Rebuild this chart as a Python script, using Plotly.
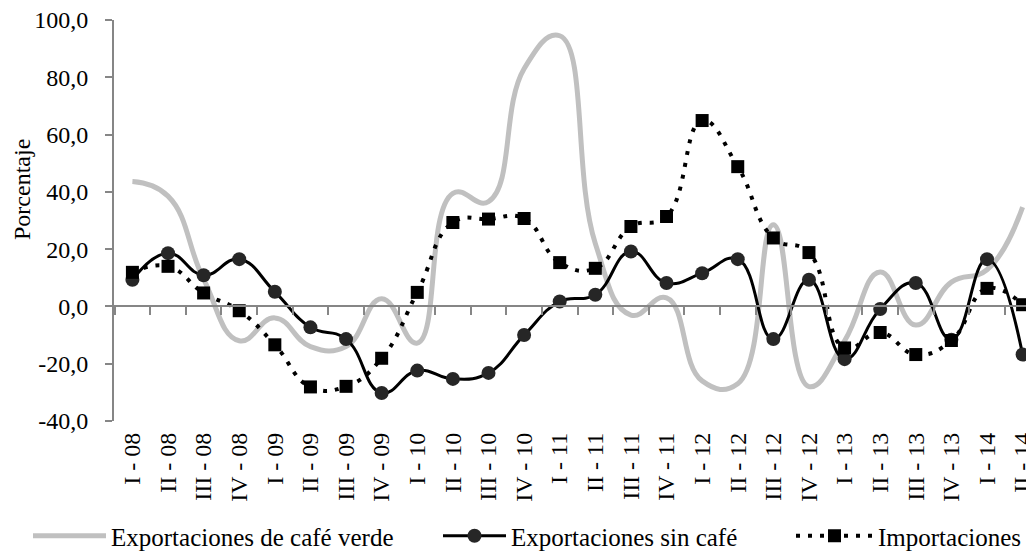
import plotly.graph_objs as go

trimestres = ['I - 08', 'II - 08', 'III - 08', 'IV - 08',
              'I - 09', 'II - 09', 'III - 09', 'IV - 09',
              'I - 10', 'II - 10', 'III - 10', 'IV - 10',
              'I - 11', 'II - 11', 'III - 11', 'IV - 11',
              'I - 12', 'II - 12', 'III - 12', 'IV - 12',
              'I - 13', 'II - 13', 'III - 13', 'IV - 13',
              'I - 14', 'II - 14']

cafe_verde = [43.6, 38.5, 9.5, -12.0, -4.0, -14.0, -14.0, 2.7, -12.8, 39.5, 36.6, 83.0, 94.5,
              22.0, -3.0, 3.0, -26.0, -27.0, 28.5, -28.0, -12.0, 12.0, -6.5, 8.5, 12.8, 34.7]
sin_cafe = [9.3, 18.6, 10.9, 16.5, 5.1, -7.3, -11.4, -30.2, -22.4, -25.3, -23.2, -10.0, 1.7,
            4.1, 19.2, 8.2, 11.6, 16.5, -11.4, 9.3, -18.4, -0.9, 8.2, -11.6, 16.5, -16.8]
importaciones = [11.9, 14.0, 4.7, -1.5, -13.4, -28.1, -27.9, -18.1, 4.9, 29.3, 30.5, 30.7, 15.3,
                 13.3, 27.9, 31.4, 64.9, 48.8, 23.9, 18.8, -14.5, -9.1, -16.8, -11.9, 6.3, 0.6]

y_ticks = [-40, -20, 0, 20, 40, 60, 80, 100]
y_ticktext = ['-40,0', '-20,0', '0,0', '20,0', '40,0', '60,0', '80,0', '100,0']

FONT = 'Liberation Serif, Times New Roman, serif'
GRIS_EJE = '#868686'
SUAVE = 1.3

trace1 = go.Scatter(x=trimestres, y=cafe_verde, name='Exportaciones de café verde', mode='lines',
                    line=dict(color='#C0C0C0', width=5, shape='spline', smoothing=SUAVE),
                    legend='legend')
trace2 = go.Scatter(x=trimestres, y=sin_cafe, name='Exportaciones sin café', mode='lines+markers',
                    line=dict(color='black', width=3, shape='spline', smoothing=SUAVE),
                    marker=dict(symbol='circle', size=14, color='#262626'),
                    legend='legend2')
trace3 = go.Scatter(x=trimestres, y=importaciones, name='Importaciones', mode='lines+markers',
                    line=dict(color='black', width=4, dash='4px,8px', shape='spline', smoothing=SUAVE),
                    marker=dict(symbol='square', size=13, color='black'),
                    legend='legend3')
# eje auxiliar: linea del cero con marcas entre trimestres
eje_cero = go.Scatter(x=trimestres, y=[None] * len(trimestres), xaxis='x2', showlegend=False,
                      hoverinfo='skip')

# la pagina html deja 8px de margen en el body
W, H = 1026, 548
rango_x = [-0.517, 25.32]
y_leyenda = 1 - 528 / H
leyenda = dict(xref='container', yref='container', y=y_leyenda, xanchor='left',
               yanchor='middle', orientation='h', font=dict(size=25),
               bgcolor='rgba(0,0,0,0)')

fig = go.Figure(data=[eje_cero, trace1, trace2, trace3])
fig.update_layout(
    width=W, height=H,
    margin=dict(l=106, r=0, t=12, b=135, autoexpand=False),
    paper_bgcolor='white', plot_bgcolor='white',
    font=dict(family=FONT, size=24, color='black'),
    xaxis=dict(type='category', categoryarray=trimestres, range=rango_x, showline=False,
               showgrid=False, zeroline=False, ticks='', tickangle=-90,
               ticklabelstandoff=6, automargin=False, tickfont=dict(size=24),
               ticklabeloverflow='allow'),
    xaxis2=dict(type='category', categoryarray=trimestres, range=rango_x, overlaying='x',
                anchor='free', position=40 / 140, showline=True, linecolor=GRIS_EJE, linewidth=2,
                ticks='outside', tickson='boundaries', ticklen=8, tickwidth=2, tickcolor=GRIS_EJE,
                showticklabels=False, showgrid=False, zeroline=False),
    yaxis=dict(range=[-40, 100], tickmode='array', tickvals=y_ticks, ticktext=y_ticktext,
               showline=True, linecolor=GRIS_EJE,
               linewidth=2, ticks='outside', ticklen=7, tickwidth=2, tickcolor=GRIS_EJE,
               showgrid=False, zeroline=False, ticklabelstandoff=12, automargin=False,
               tickfont=dict(size=24), ticklabeloverflow='allow'),
    annotations=[dict(text='Porcentaje', textangle=-90, xref='paper', yref='paper',
                      x=(14 - 106) / 920, y=(413 - 182) / 401, xanchor='center',
                      yanchor='middle', showarrow=False, font=dict(size=24))],
    legend=dict(leyenda, x=20 / W, itemwidth=73),
    legend2=dict(leyenda, x=430 / W, itemwidth=63),
    legend3=dict(leyenda, x=783 / W, itemwidth=77),
    showlegend=True,
)

fig.write_html("out.html")
